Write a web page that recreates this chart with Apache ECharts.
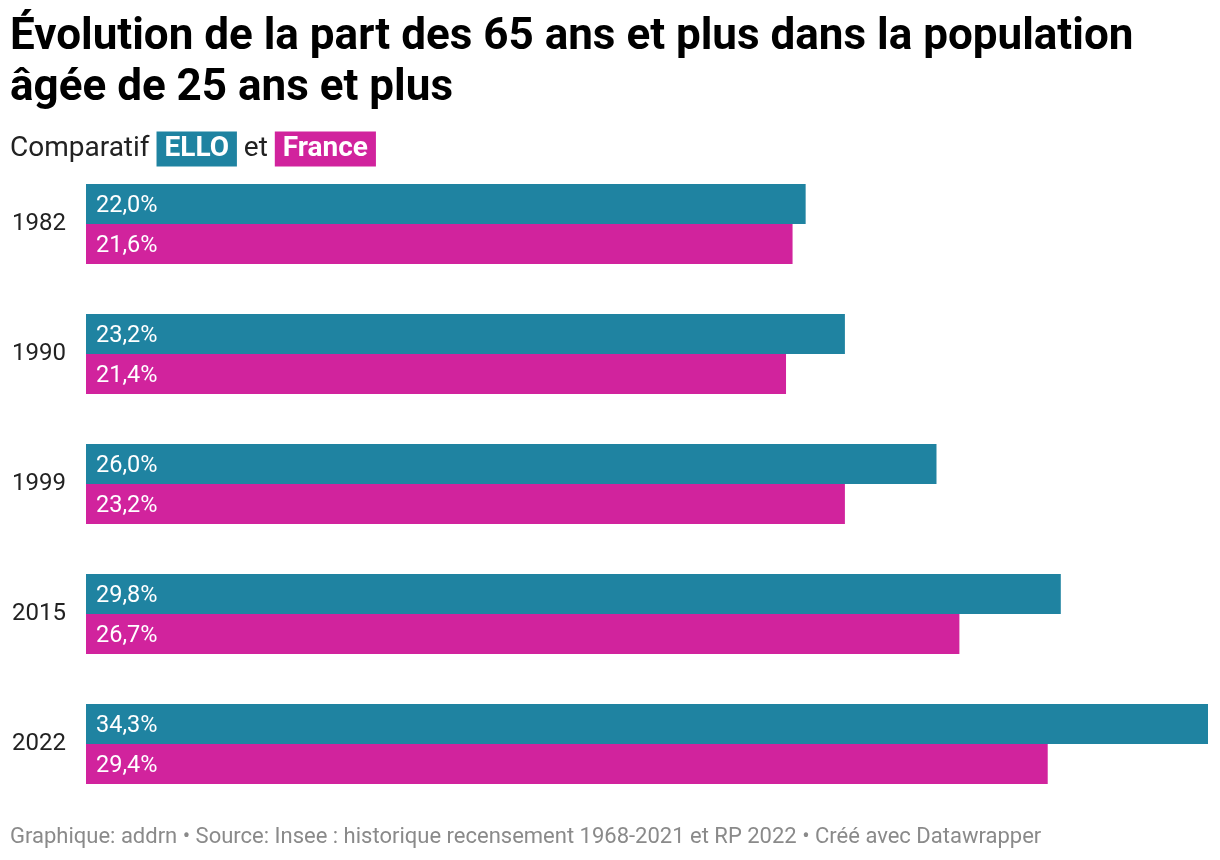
<!DOCTYPE html>
<html><head><meta charset="utf-8">
<script src="https://cdn.jsdelivr.net/npm/echarts@6/dist/echarts.min.js"></script>
<style>html,body{margin:0;padding:0;background:#fff}#c{width:1220px;height:860px}</style>
</head><body><div id="c"></div>
<script>
const categories = ['1982', '1990', '1999', '2015', '2022'];
const ello = [22.0, 23.2, 26.0, 29.8, 34.3];
const france = [21.6, 21.4, 23.2, 26.7, 29.4];
const seriesNames = ['ELLO', 'France'];
const colors = ['#1f83a1', '#d1239d'];

const fmt = v => v.toFixed(1).replace('.', ',') + '%';
const chart = echarts.init(document.getElementById('c'), null, {renderer: 'canvas'});
const labelStyle = {
  show: true, position: 'insideLeft', distance: 10, offset: [0, 2],
  color: '#fff', fontFamily: 'Roboto', fontSize: 23.5,
  formatter: p => fmt(p.value)
};
chart.setOption({
  animation: false,
  textStyle: {fontFamily: 'Roboto'},
  title: [
    {
      text: 'Évolution de la part des 65 ans et plus dans la population\nâgée de 25 ans et plus',
      left: 10, top: 12, padding: 0,
      textStyle: {fontFamily: 'Roboto', fontWeight: 'bold', fontSize: 44, lineHeight: 51, color: '#000'}
    },
    {
      text: '{t|Comparatif }{a| ELLO }{t| et }{b| France }',
      left: 10, top: 129, padding: 0,
      textStyle: {
        fontWeight: 'normal',
        rich: {
          t: {fontFamily: 'Roboto', fontWeight: 'normal', fontSize: 28, color: '#222', height: 36, lineHeight: 40},
          a: {fontFamily: 'Roboto', fontSize: 28, fontWeight: 'bold', color: '#fff', backgroundColor: colors[0], height: 35, lineHeight: 40, padding: [0, 1]},
          b: {fontFamily: 'Roboto', fontSize: 28, fontWeight: 'bold', color: '#fff', backgroundColor: colors[1], height: 35, lineHeight: 40, padding: [0, 1]}
        }
      }
    },
    {
      text: 'Graphique: addrn • Source: Insee : historique recensement 1968-2021 et RP 2022 • Créé avec Datawrapper',
      left: 10, top: 826, padding: 0,
      textStyle: {fontFamily: 'Roboto', fontWeight: 'normal', fontSize: 22, color: '#8a8a8a'}
    }
  ],
  grid: {left: 86, right: 12, top: 159, bottom: 51, containLabel: false},
  xAxis: {type: 'value', min: 0, max: 34.3, show: false},
  yAxis: {
    type: 'category', data: categories, inverse: true,
    axisLine: {show: false}, axisTick: {show: false},
    axisLabel: {margin: 20, color: '#222', fontFamily: 'Roboto', fontSize: 24, padding: [4, 0, 0, 0]}
  },
  series: [
    {name: seriesNames[0], type: 'bar', data: ello, barWidth: 40, barGap: '0%', itemStyle: {color: colors[0]}, label: labelStyle},
    {name: seriesNames[1], type: 'bar', data: france, barWidth: 40, barGap: '0%', itemStyle: {color: colors[1]}, label: labelStyle}
  ]
});
</script></body></html>
